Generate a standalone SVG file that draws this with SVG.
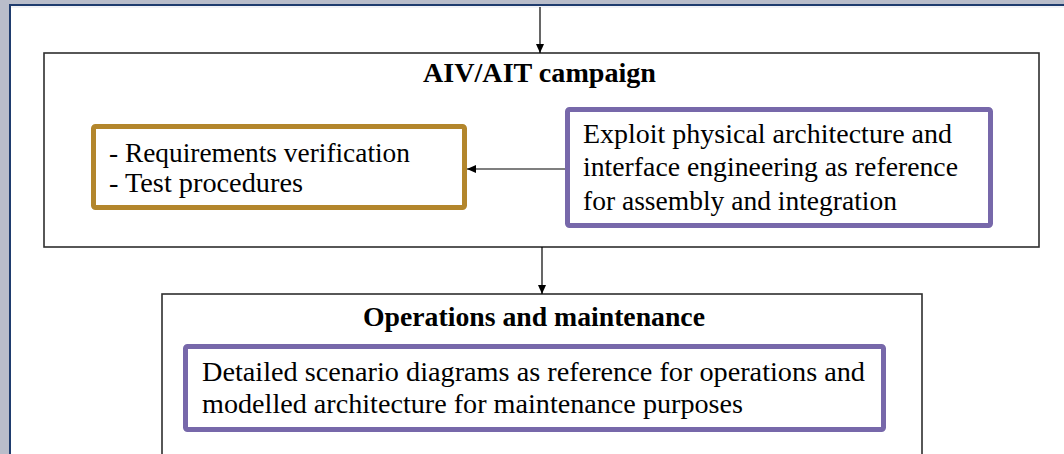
<svg xmlns="http://www.w3.org/2000/svg" width="1064" height="454" viewBox="0 0 1064 454">
<defs>
<marker id="ah" markerWidth="10" markerHeight="10" refX="9" refY="5" orient="auto" markerUnits="userSpaceOnUse">
<path d="M0,1 L9,5 L0,9 Z" fill="#000"/>
</marker>
<style>
.frame{fill:#fff;stroke:#2e2e2e;stroke-width:1.6}
.gold{fill:#fff;stroke:#b3862c;stroke-width:5}
.purple{fill:#fff;stroke:#7768aa;stroke-width:5}
.t{font-family:"Liberation Serif","Times New Roman",serif;font-size:27px;fill:#000}
.b{font-weight:bold}
.conn{stroke:#000;stroke-width:1.2;fill:none;marker-end:url(#ah)}
</style>
</defs>
<rect x="0" y="0" width="1064" height="454" fill="#b9bdca"/>
<rect x="10" y="5" width="1060" height="460" fill="#fff" stroke="#1f3c6e" stroke-width="2"/>
<line x1="11" y1="7" x2="1064" y2="7" stroke="#e6e8ee" stroke-width="1"/>
<g id="aiv">
<rect class="frame" x="44" y="53" width="995" height="194"/>
<text class="t b" x="423" y="82" textLength="233" lengthAdjust="spacingAndGlyphs">AIV/AIT campaign</text>
</g>
<g id="verification">
<rect class="gold" x="93.5" y="126.5" width="371" height="81" rx="2"/>
<text class="t" x="109" y="162" textLength="301" lengthAdjust="spacingAndGlyphs">- Requirements  verification</text>
<text class="t" x="109" y="192" textLength="194" lengthAdjust="spacingAndGlyphs">- Test procedures</text>
</g>
<g id="exploit">
<rect class="purple" x="567.5" y="109.5" width="423" height="116" rx="2"/>
<text class="t" x="583" y="143" textLength="369" lengthAdjust="spacingAndGlyphs">Exploit physical architecture and</text>
<text class="t" x="583" y="176" textLength="375" lengthAdjust="spacingAndGlyphs">interface  engineering  as reference</text>
<text class="t" x="583" y="210" textLength="314" lengthAdjust="spacingAndGlyphs">for assembly and integration</text>
</g>
<g id="ops">
<rect class="frame" x="162" y="294" width="760" height="180"/>
<text class="t b" x="363" y="326" textLength="342" lengthAdjust="spacingAndGlyphs">Operations and maintenance</text>
</g>
<g id="scenario">
<rect class="purple" x="185.5" y="346.5" width="698" height="83" rx="2"/>
<text class="t" x="202" y="381" textLength="663" lengthAdjust="spacingAndGlyphs">Detailed  scenario diagrams as reference  for operations and</text>
<text class="t" x="202" y="413" textLength="541" lengthAdjust="spacingAndGlyphs">modelled  architecture  for maintenance  purposes</text>
</g>
<g id="connectors">
<line class="conn" x1="540" y1="7" x2="540" y2="53"/>
<line class="conn" x1="565" y1="169" x2="467" y2="169"/>
<line class="conn" x1="542" y1="247" x2="542" y2="294"/>
</g>
</svg>
